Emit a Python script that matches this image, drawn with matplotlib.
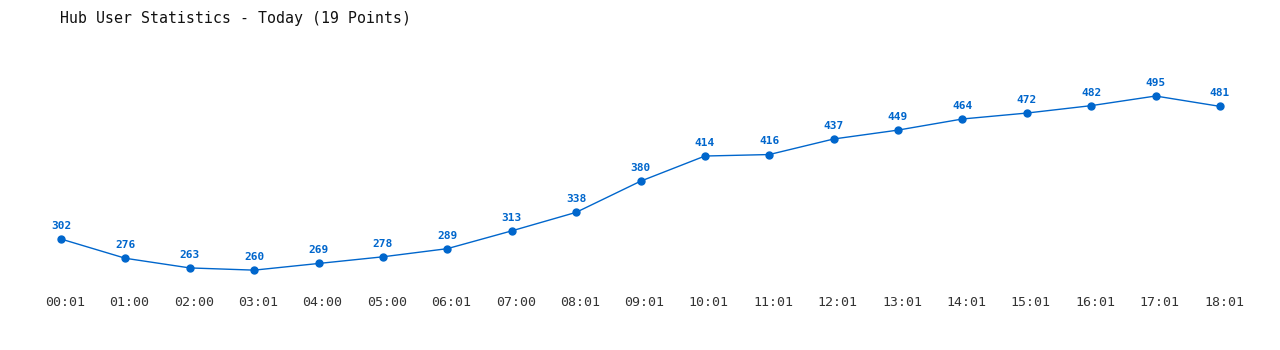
import matplotlib
matplotlib.use("Agg")
import matplotlib.pyplot as plt
from matplotlib.transforms import ScaledTranslation

times = ["00:01", "01:00", "02:00", "03:01", "04:00", "05:00", "06:01", "07:00", "08:01", "09:01",
         "10:01", "11:01", "12:01", "13:01", "14:01", "15:01", "16:01", "17:01", "18:01"]
users = [302, 276, 263, 260, 269, 278, 289, 313, 338, 380, 414, 416, 437, 449, 464, 472, 482, 495, 481]
title = "Hub User Statistics - Today (19 Points)"

W, H = 1280, 350
fig = plt.figure(figsize=(W / 100, H / 100), dpi=100)
fig.patch.set_facecolor("white")

# axes spanning pixels x 61..1220, y 60..290 from top
ax = fig.add_axes([61 / W, 1 - 290 / H, (1220 - 61) / W, (290 - 60) / H])
ax.set_xlim(0, len(times) - 1)
ax.set_ylim(233.2, 543.6)
for s in ax.spines.values():
    s.set_visible(False)
ax.set_yticks([])
xs = list(range(len(times)))
color = "#0066cc"
ax.plot(xs, users, color=color, lw=1, marker="o", ms=5, clip_on=False, zorder=3)
for x, v in zip(xs, users):
    ax.annotate(str(v), (x, v), xytext=(0, 9.4), textcoords="offset points", ha="center", va="center",
                fontsize=8, fontweight="bold", color=color, family="DejaVu Sans Mono")
ax.set_xticks(xs)
ax.set_xticklabels(times, family="DejaVu Sans Mono", fontsize=9.5, color="#333333")
ax.tick_params(axis="x", length=0, pad=4)
shift = ScaledTranslation(4 / 100, 0, fig.dpi_scale_trans)
for lbl in ax.get_xticklabels():
    lbl.set_transform(lbl.get_transform() + shift)

fig.text(60 / W, 1 - 18 / H, title, family="DejaVu Sans Mono", fontsize=10.7, color="#111111",
         ha="left", va="center")

fig.savefig("out.png", dpi=100, facecolor="white")
